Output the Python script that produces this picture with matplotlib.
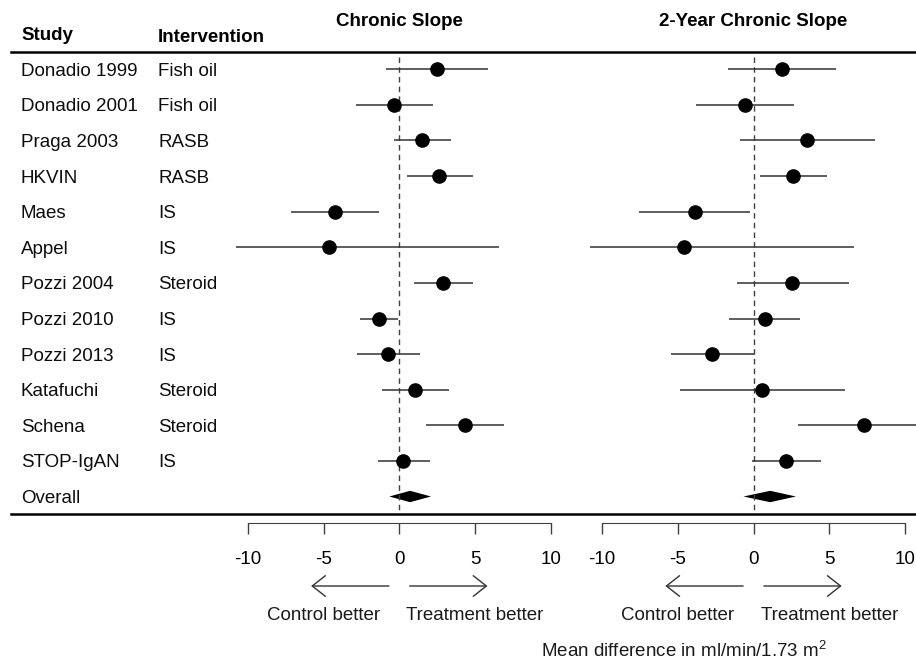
import matplotlib.pyplot as plt
import matplotlib.transforms as mtransforms
import numpy as np

plt.rcParams['font.family'] = ['Liberation Sans', 'DejaVu Sans']
plt.rcParams['mathtext.fontset'] = 'custom'
plt.rcParams['mathtext.rm'] = 'Liberation Sans'
plt.rcParams['font.size'] = 13.5

studies = ["Donadio 1999", "Donadio 2001", "Praga 2003", "HKVIN", "Maes", "Appel",
           "Pozzi 2004", "Pozzi 2010", "Pozzi 2013", "Katafuchi", "Schena", "STOP-IgAN"]
interventions = ["Fish oil", "Fish oil", "RASB", "RASB", "IS", "IS",
                 "Steroid", "IS", "IS", "Steroid", "Steroid", "IS"]

chronic_est = [2.47, -0.37, 1.48, 2.62, -4.27, -4.64, 2.86, -1.32, -0.73, 1.04, 4.34, 0.26]
chronic_lo = [-0.90, -2.88, -0.35, 0.49, -7.17, -10.8, 0.95, -2.57, -2.79, -1.16, 1.78, -1.43]
chronic_hi = [5.83, 2.22, 3.39, 4.84, -1.34, 6.58, 4.89, -0.07, 1.39, 3.30, 6.93, 2.01]
chronic_overall = [-0.66, 0.71, 2.09]   # lo, est, hi

twoyr_est = [1.85, -0.59, 3.56, 2.62, -3.85, -4.59, 2.57, 0.73, -2.71, 0.55, 7.26, 2.16]
twoyr_lo = [-1.67, -3.80, -0.88, 0.42, -7.54, -10.78, -1.10, -1.62, -5.43, -4.84, 2.95, -0.13]
twoyr_hi = [5.46, 2.69, 8.01, 4.88, -0.20, 6.60, 6.30, 3.10, 0.0, 6.01, 11.5, 4.45]
twoyr_overall = [-0.66, 1.10, 2.80]

ticks = [-10, -5, 0, 5, 10]

W, H = 916, 664
fig = plt.figure(figsize=(W / 100, H / 100), dpi=100)

# pixel canvas for rules and headers
canvas = fig.add_axes([0, 0, 1, 1])
canvas.set_xlim(0, W)
canvas.set_ylim(H, 0)
canvas.axis('off')

scale = 15.16      # px per unit
x_half = 12
row_top, row_gap = 69.3, 35.6
top_px, bot_px = 52, 514


def row_of(px):
    return (px - row_top) / row_gap


def make_panel(zero_px):
    left = zero_px - x_half * scale
    ax = fig.add_axes([left / W, 1 - bot_px / H, 2 * x_half * scale / W, (bot_px - top_px) / H])
    ax.set_xlim(-x_half, x_half)
    ax.set_ylim(row_of(bot_px), row_of(top_px))
    ax.axis('off')
    axb = fig.add_axes([left / W, 1 - 522.7 / H, 2 * x_half * scale / W, 0.0001])
    axb.set_xlim(-x_half, x_half)
    for s in ['top', 'left', 'right']:
        axb.spines[s].set_visible(False)
    axb.spines['bottom'].set_bounds(ticks[0], ticks[-1])
    axb.spines['bottom'].set_color('0.25')
    axb.set_yticks([])
    axb.set_xticks(ticks)
    axb.set_xticklabels([str(t) for t in ticks])
    axb.tick_params(axis='x', length=7.6, width=1, color='0.25', pad=13, labelsize=13.5)
    axb.patch.set_visible(False)
    return ax


def draw_panel(ax, est, lo, hi, overall, title):
    rows = np.arange(len(est))
    ax.plot([0, 0], [row_of(57), row_of(512)], ls=(0, (4, 3)), color='0.25', lw=1)
    ax.hlines(rows, lo, hi, color='0.2', lw=1.1)
    ax.plot(est, rows, 'o', color='black', ms=9.5)
    r = len(est)
    ax.fill([overall[0], overall[1], overall[2], overall[1]],
            [r, r - 0.16, r, r + 0.16], color='black', lw=0)
    tr = mtransforms.blended_transform_factory(ax.transData, canvas.transData)
    ax.text(0, 21, title, transform=tr, ha='center', va='center', fontweight='bold')
    ax.annotate('', xy=(-6, 586), xytext=(-0.5, 586), xycoords=tr, textcoords=tr,
                arrowprops=dict(arrowstyle='->,head_length=0.7,head_width=0.55', color='0.2', lw=1))
    ax.annotate('', xy=(6, 586), xytext=(0.5, 586), xycoords=tr, textcoords=tr,
                arrowprops=dict(arrowstyle='->,head_length=0.7,head_width=0.55', color='0.2', lw=1))
    ax.text(-5, 616, 'Control better', transform=tr, ha='center', va='center', color='0.1')
    ax.text(5, 616, 'Treatment better', transform=tr, ha='center', va='center', color='0.1')


ax1 = make_panel(399.3)
ax2 = make_panel(753.5)
draw_panel(ax1, chronic_est, chronic_lo, chronic_hi, chronic_overall, 'Chronic Slope')
draw_panel(ax2, twoyr_est, twoyr_lo, twoyr_hi, twoyr_overall, '2-Year Chronic Slope')

# row labels
tr_rows = mtransforms.blended_transform_factory(canvas.transData, ax1.transData)
for i, (s, iv) in enumerate(zip(studies, interventions)):
    canvas.text(21, i, s, transform=tr_rows, va='center_baseline', color='0.05')
    canvas.text(158, i, iv, transform=tr_rows, va='center_baseline', color='0.05')
canvas.text(21, len(studies), 'Overall', transform=tr_rows, va='center_baseline', color='0.05')

canvas.text(21, 34, 'Study', fontweight='bold', va='center_baseline')
canvas.text(158, 35, 'Intervention', fontweight='bold', va='center_baseline')

canvas.plot([11, W], [51.7, 51.7], color='black', lw=1.8)
canvas.plot([11, W], [513.5, 513.5], color='black', lw=1.8)

canvas.text(684, 651, 'Mean difference in ml/min/1.73 m$^2$', ha='center', va='center', color='0.1')

fig.savefig('out.png', dpi=100)
